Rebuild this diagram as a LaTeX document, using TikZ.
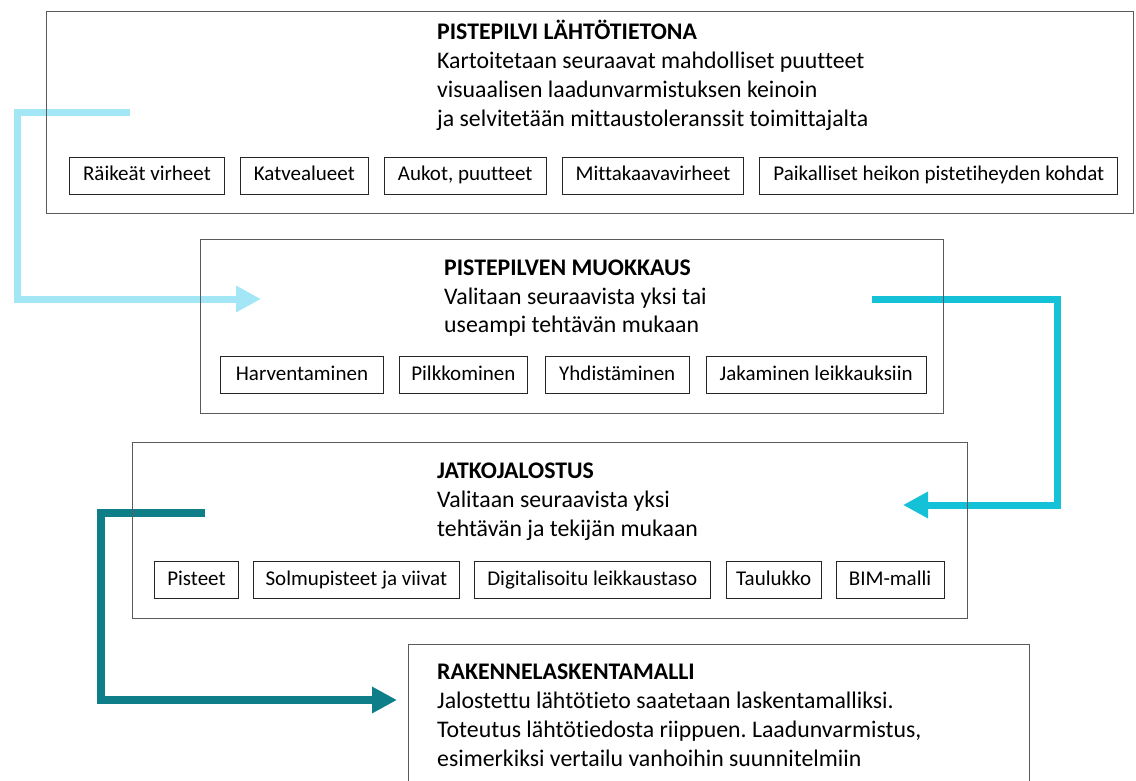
\documentclass[tikz,border=0pt]{standalone}
\usepackage{fontspec}
\setmainfont{Carlito}[Ligatures=CommonOff]
\frenchspacing
\usetikzlibrary{arrows.meta,positioning}
\definecolor{lblue}{HTML}{A3E6F5}
\definecolor{cyanarr}{HTML}{14C1D7}
\definecolor{tealarr}{HTML}{0E7E89}
\definecolor{boxline}{HTML}{5A5A5A}
\begin{document}
\begin{tikzpicture}[x=1pt,y=-1pt,
  bigbox/.style={draw=boxline, line width=1.2pt, anchor=north west, inner sep=0pt},
  subbox/.style={draw=black!85, line width=0.9pt, font=\fontsize{21}{24}\selectfont,
    inner xsep=13.6pt, inner ysep=0pt, minimum height=37pt, text height=14pt, text depth=4pt},
  fixbox/.style={subbox, inner xsep=8pt, minimum width=#1},
  txt/.style={anchor=base west, inner sep=0pt, font=\fontsize{23.8}{29}\selectfont},
  flow/.style={line width=7pt, line join=miter, -{Triangle[length=25pt,width=25pt]}}]
\useasboundingbox (0,0) rectangle (1136,781);

% connectors (drawn below the boxes)
\coordinate (a1s) at (130,113);
\coordinate (a1e) at (261,299);
\coordinate (a2s) at (872,299);
\coordinate (a2e) at (903,505);
\coordinate (a3s) at (205,513);
\coordinate (a3e) at (397,700);
\draw[flow, lblue] (a1s) -- ++(-113,0) |- (a1e);
\draw[flow, cyanarr] (a2s) -- ++(185,0) |- (a2e);
\draw[flow, tealarr, line width=8pt] (a3s) -- ++(-104,0) |- (a3e);

% box 1
\node[bigbox, minimum width=1087pt, minimum height=202pt] (b1) at (46,11) {};
\node[txt] (t1) at (437,40) {\vtop{\hbox{\bfseries PISTEPILVI LÄHTÖTIETONA}\hbox{Kartoitetaan seuraavat mahdolliset puutteet}\hbox{visuaalisen laadunvarmistuksen keinoin}\hbox{ja selvitetään mittaustoleranssit toimittajalta}}};
\node[subbox, anchor=west] (s11) at (69,176) {Räikeät virheet};
\node[subbox, right=15pt of s11] (s12) {Katvealueet};
\node[subbox, right=15pt of s12] (s13) {Aukot, puutteet};
\node[subbox, right=15pt of s13] (s14) {Mittakaavavirheet};
\node[subbox, right=15pt of s14] (s15) {Paikalliset heikon pistetiheyden kohdat};

% box 2
\node[bigbox, minimum width=743pt, minimum height=174pt] (b2) at (200,239) {};
\node[txt] (t2) at (444,275) {\vtop{\hbox{\bfseries PISTEPILVEN MUOKKAUS}\hbox{Valitaan seuraavista yksi tai}\hbox{useampi tehtävän mukaan}}};
\node[fixbox=163pt, anchor=west] (s21) at (220,375) {Harventaminen};
\node[fixbox=128pt, right=15pt of s21] (s22) {Pilkkominen};
\node[fixbox=144pt, right=17pt of s22] (s23) {Yhdistäminen};
\node[fixbox=220pt, right=16pt of s23] (s24) {Jakaminen leikkauksiin};

% box 3
\node[bigbox, minimum width=835pt, minimum height=176pt] (b3) at (132,442) {};
\node[txt] (t3) at (437,478) {\vtop{\hbox{\bfseries JATKOJALOSTUS}\hbox{Valitaan seuraavista yksi}\hbox{tehtävän ja tekijän mukaan}}};
\node[fixbox=84pt, anchor=west] (s31) at (154,580) {Pisteet};
\node[fixbox=206pt, right=14pt of s31] (s32) {Solmupisteet ja viivat};
\node[fixbox=236pt, right=14pt of s32] (s33) {Digitalisoitu leikkaustaso};
\node[fixbox=95pt, right=15pt of s33] (s34) {Taulukko};
\node[fixbox=108pt, right=14pt of s34] (s35) {BIM-malli};

% box 4 (continues below the picture)
\node[bigbox, minimum width=621pt, minimum height=170pt] (b4) at (408,644) {};
\node[txt] (t4) at (437,679) {\vtop{\hbox{\bfseries RAKENNELASKENTAMALLI}\hbox{Jalostettu lähtötieto saatetaan laskentamalliksi.}\hbox{Toteutus lähtötiedosta riippuen. Laadunvarmistus,}\hbox{esimerkiksi vertailu vanhoihin suunnitelmiin}}};
\end{tikzpicture}
\end{document}
